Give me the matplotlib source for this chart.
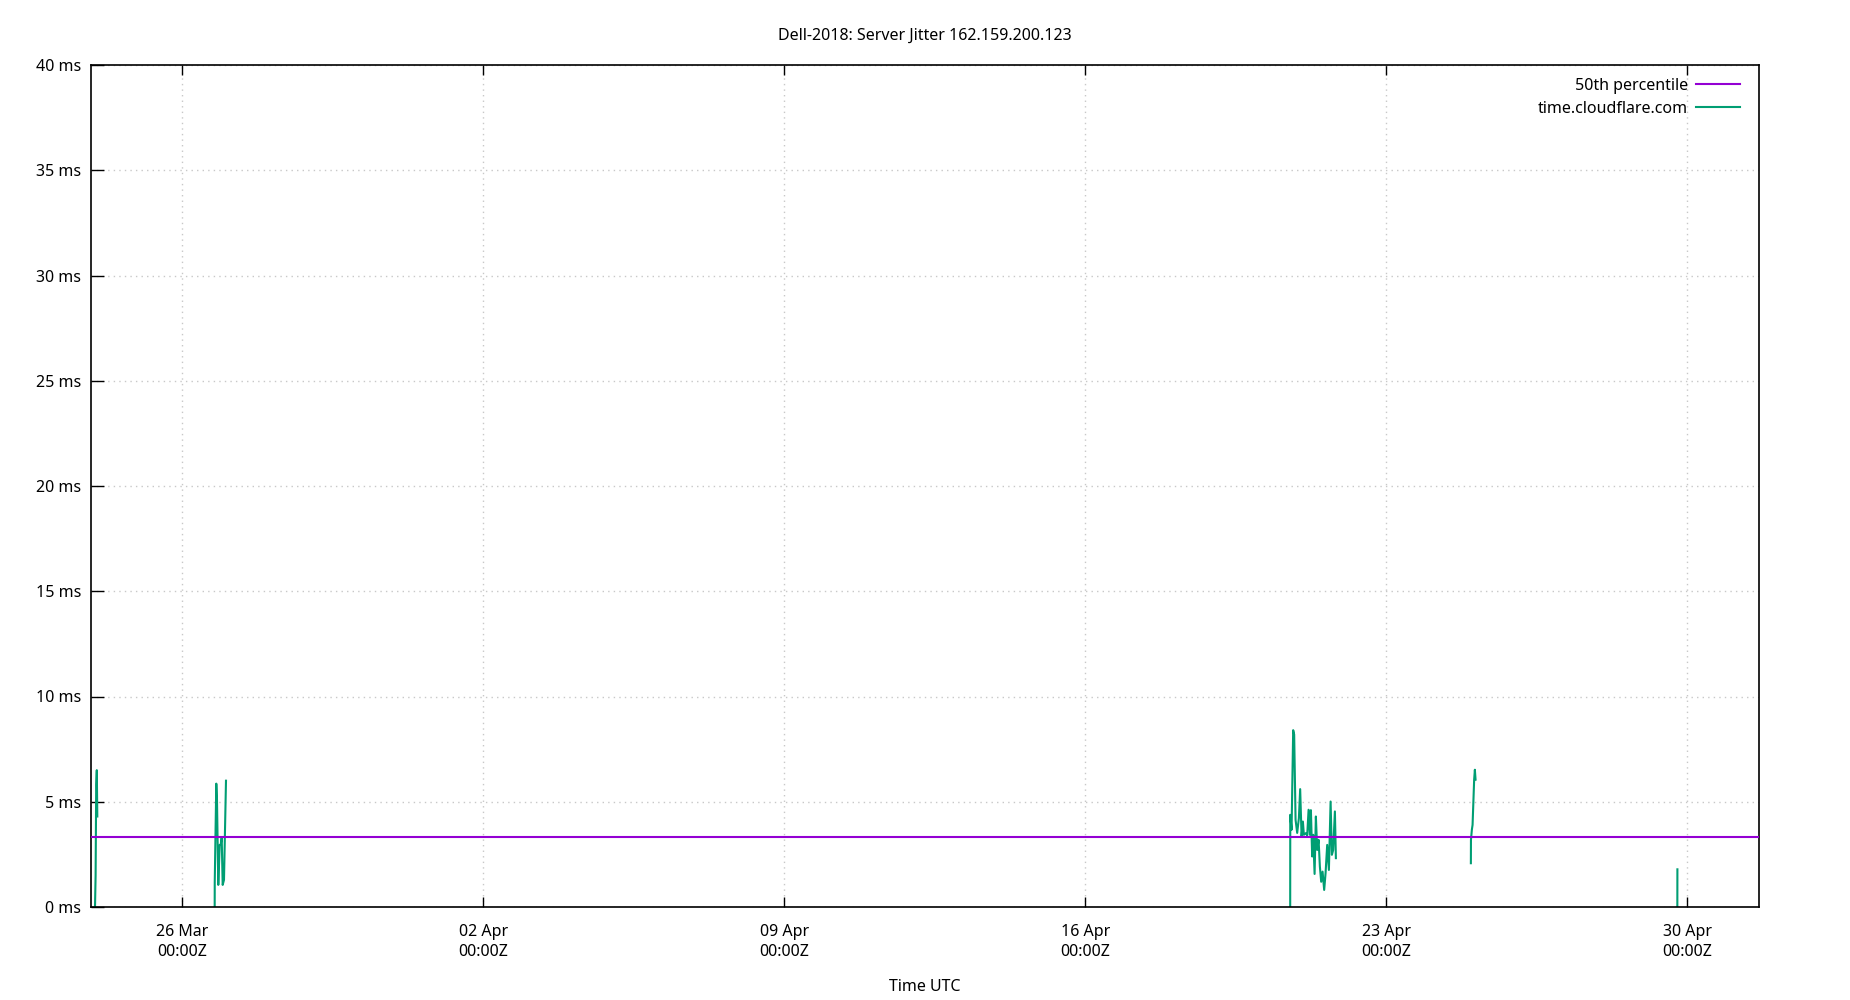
import numpy as np
import pandas as pd
import matplotlib
matplotlib.use("Agg")
import matplotlib.pyplot as plt
import matplotlib.dates as mdates
from matplotlib.ticker import FuncFormatter, MultipleLocator, FixedLocator

plt.rcParams['font.family'] = ['Noto Sans', 'DejaVu Sans']

# Datos (None = hueco sin datos)
tiempos = [
    "2025-03-23 23:10", "2025-03-23 23:30", "2025-03-23 23:50", "2025-03-24 00:10", "2025-03-24 00:27",
    None,
    "2025-03-26 17:58", "2025-03-26 18:00", "2025-03-26 18:52", "2025-03-26 19:15", "2025-03-26 19:59",
    "2025-03-26 20:46", "2025-03-26 21:19", "2025-03-26 21:53", "2025-03-26 22:26", "2025-03-26 23:10",
    "2025-03-27 00:17",
    None,
    "2025-04-20 18:19", "2025-04-20 18:21", "2025-04-20 19:05", "2025-04-20 19:59", "2025-04-20 20:32",
    "2025-04-20 21:19", "2025-04-20 22:13", "2025-04-20 23:10", "2025-04-20 23:53", "2025-04-21 00:40",
    "2025-04-21 01:24", "2025-04-21 01:57", "2025-04-21 03:04", "2025-04-21 03:48", "2025-04-21 04:35",
    "2025-04-21 05:18", "2025-04-21 05:52", "2025-04-21 06:35", "2025-04-21 07:09", "2025-04-21 07:56",
    "2025-04-21 08:39", "2025-04-21 09:23", "2025-04-21 10:10", "2025-04-21 10:53", "2025-04-21 11:37",
    "2025-04-21 12:23", "2025-04-21 13:17", "2025-04-21 14:04", "2025-04-21 14:58", "2025-04-21 15:55",
    "2025-04-21 16:52", "2025-04-21 17:35", "2025-04-21 18:19", "2025-04-21 19:16", "2025-04-21 19:49",
    None,
    "2025-04-24 23:10", "2025-04-24 23:13", "2025-04-24 23:43", "2025-04-25 00:07", "2025-04-25 01:00",
    "2025-04-25 01:24", "2025-04-25 01:47",
    None,
    "2025-04-29 18:25", "2025-04-29 18:27",
]
jitter_ms = [
    0.0, 1.5, 5.8, 6.5, 4.3,
    None,
    0.0, 1.16, 5.86, 5.1, 1.05,
    2.95, 2.95, 3.3, 1.05, 1.29,
    6.0,
    None,
    0.0, 4.38, 3.67, 8.4, 8.19,
    4.14, 3.52, 4.22, 5.6, 3.35,
    4.06, 3.43, 3.51, 3.4, 4.62,
    3.43, 4.6, 2.4, 3.43, 1.57,
    4.3, 2.71, 3.19, 1.92, 1.2,
    1.68, 0.81, 1.62, 2.95, 1.76,
    5.01, 2.48, 2.71, 4.54, 2.32,
    None,
    2.08, 3.19, 3.67, 3.9, 6.05,
    6.52, 6.05,
    None,
    0.0, 1.79,
]
percentil_50 = 3.32
rango_x = ["2025-03-23 20:39", "2025-05-01 16:00"]
ticks_x = ["2025-03-26", "2025-04-02", "2025-04-09", "2025-04-16", "2025-04-23", "2025-04-30"]

t = pd.to_datetime(pd.Series(tiempos))
v = np.array([np.nan if x is None else x for x in jitter_ms], dtype=float)

fig = plt.figure(figsize=(18.5, 10), dpi=100)
ax = fig.add_axes([90.5 / 1850, 93 / 1000, (1759 - 90.5) / 1850, (907 - 65) / 1000])

x0, x1 = pd.to_datetime(rango_x)
ax.plot([x0, x1], [percentil_50, percentil_50], color='#9400d3', lw=1.5,
        label='50th percentile', zorder=3)
ax.plot(t, v, color='#009e73', lw=1.5, label='time.cloudflare.com', zorder=2)

ax.set_xlim(x0, x1)
ax.set_ylim(0, 40)
ax.yaxis.set_major_locator(MultipleLocator(5))
ax.yaxis.set_major_formatter(FuncFormatter(lambda y, p: f"{int(y)} ms"))
ax.xaxis.set_major_locator(FixedLocator(mdates.date2num(pd.to_datetime(ticks_x))))
ax.xaxis.set_major_formatter(mdates.DateFormatter('%d %b\n%H:%MZ'))

fs = 11.5
ax.tick_params(axis='x', direction='in', length=7, width=1, top=True, pad=12, labelsize=fs)
ax.tick_params(axis='y', direction='in', length=9, width=1, right=False, pad=6.5, labelsize=fs)
for lbl in ax.get_xticklabels():
    lbl.set_linespacing(1.4)
for s in ax.spines.values():
    s.set_linewidth(1.2)

ax.grid(True, color='#c8c8c8', lw=1, linestyle=(0, (1, 3)))
ax.set_axisbelow(True)

ax.set_title('Dell-2018: Server Jitter 162.159.200.123', fontsize=fs, pad=18)
ax.set_xlabel('Time UTC', fontsize=fs, labelpad=13)

ax.legend(loc='upper right', bbox_to_anchor=(0.9962, 1.0), frameon=False,
          markerfirst=False, fontsize=fs, handlelength=2.75, handletextpad=0.5,
          borderpad=0, borderaxespad=0.8, labelspacing=0.45)

plt.savefig('out.png', dpi=100)
plt.close()
